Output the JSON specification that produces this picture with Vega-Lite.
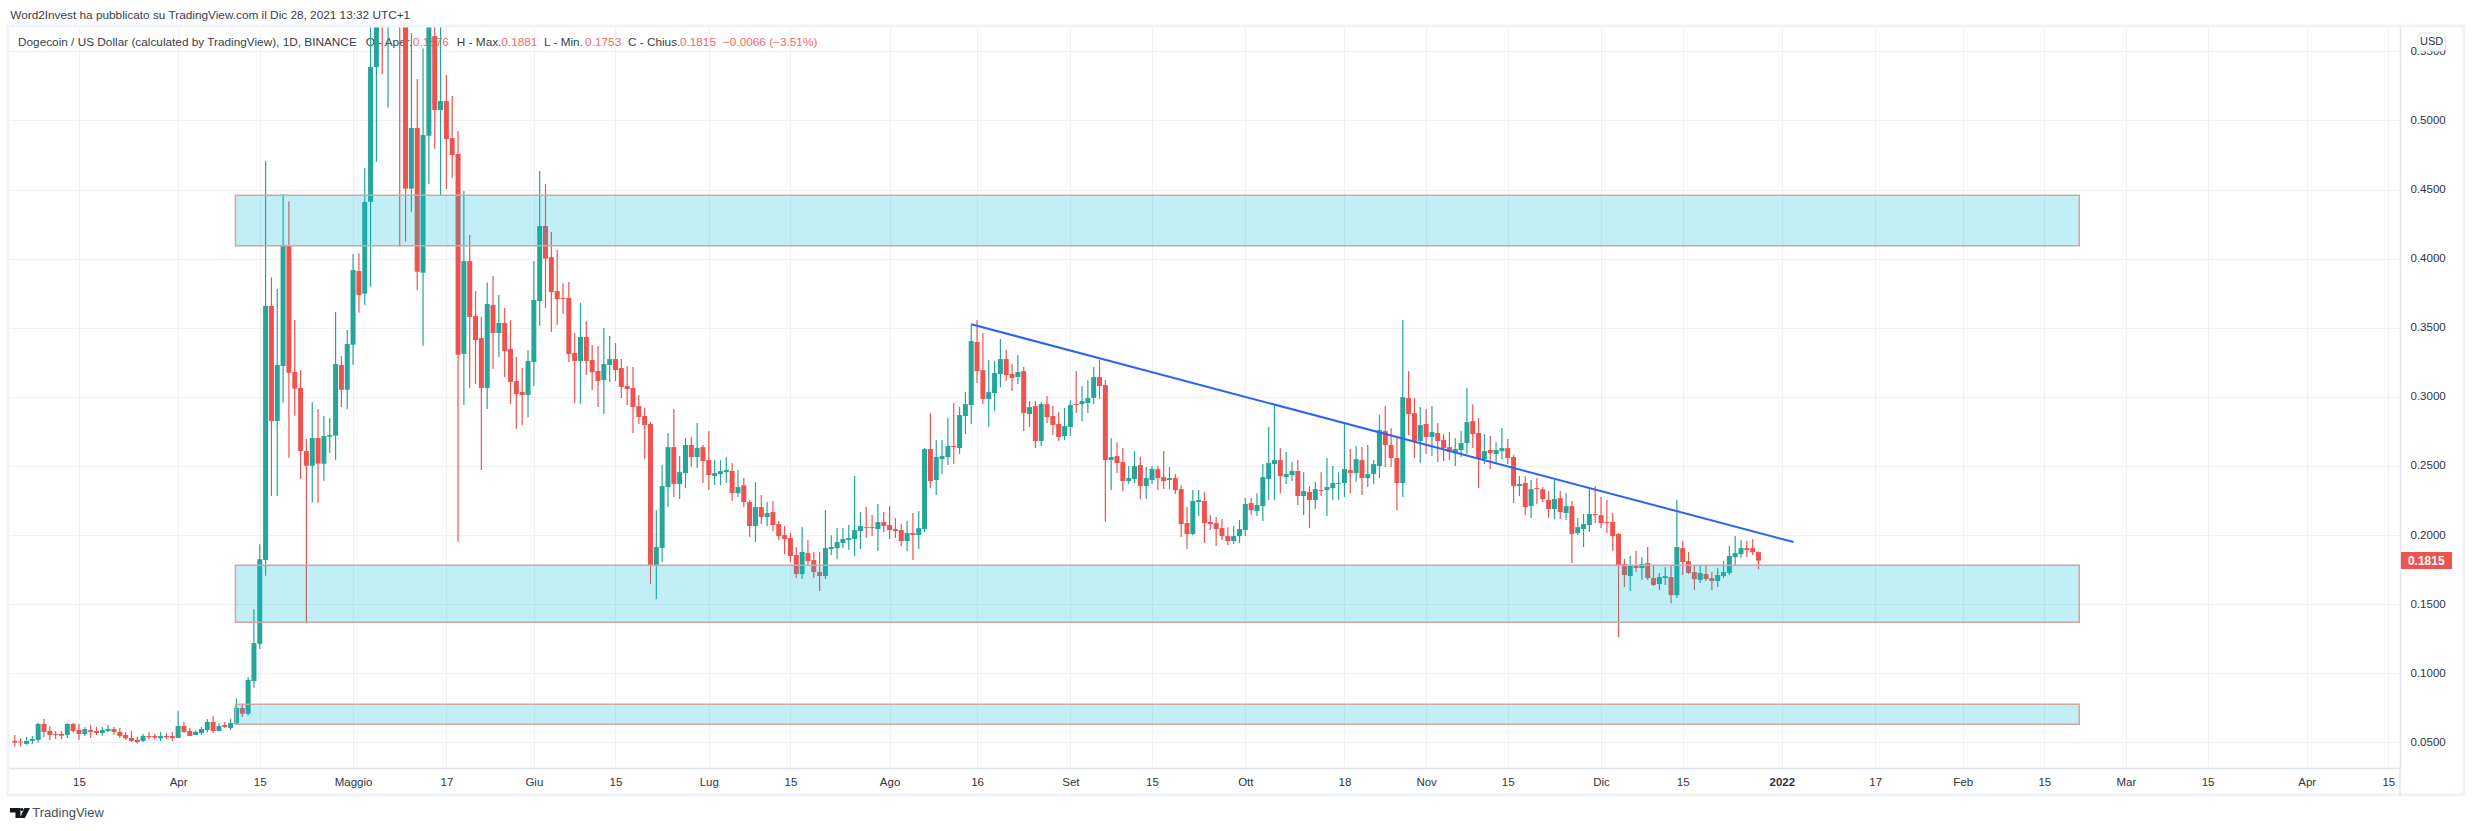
{
"$schema":"https://vega.github.io/schema/vega-lite/v6.json",
"description":"Dogecoin / US Dollar daily candles with support zones and a falling trend line.",
"autosize":{"type":"none"},
"padding":{"left":9,"top":27,"right":74,"bottom":63},
"width":2391,
"height":741,
"background":"white",
"view":{"stroke":null},
"config":{"font":"Liberation Sans","axis":{"labelFont":"Liberation Sans","labelFontSize":11.5,"labelColor":"#30343f","title":null}},
"datasets":{
"candles":[
{"d":"2021-03-04","o":0.051,"h":0.0553,"l":0.0469,"c":0.0498},
{"d":"2021-03-05","o":0.0505,"h":0.0529,"l":0.0469,"c":0.0498},
{"d":"2021-03-06","o":0.0488,"h":0.0539,"l":0.0481,"c":0.051},
{"d":"2021-03-07","o":0.051,"h":0.0546,"l":0.0488,"c":0.0524},
{"d":"2021-03-08","o":0.0517,"h":0.064,"l":0.0498,"c":0.0633},
{"d":"2021-03-09","o":0.0633,"h":0.0669,"l":0.0539,"c":0.0575},
{"d":"2021-03-10","o":0.0582,"h":0.0616,"l":0.0517,"c":0.0553},
{"d":"2021-03-11","o":0.056,"h":0.0582,"l":0.0524,"c":0.0553},
{"d":"2021-03-12","o":0.056,"h":0.0582,"l":0.0524,"c":0.0548},
{"d":"2021-03-13","o":0.0553,"h":0.064,"l":0.0531,"c":0.0633},
{"d":"2021-03-14","o":0.0633,"h":0.064,"l":0.057,"c":0.0582},
{"d":"2021-03-15","o":0.0589,"h":0.0633,"l":0.0517,"c":0.056},
{"d":"2021-03-16","o":0.056,"h":0.0611,"l":0.0546,"c":0.0596},
{"d":"2021-03-17","o":0.0589,"h":0.0625,"l":0.0531,"c":0.0575},
{"d":"2021-03-18","o":0.0582,"h":0.0611,"l":0.0553,"c":0.0567},
{"d":"2021-03-19","o":0.0567,"h":0.0611,"l":0.0548,"c":0.0589},
{"d":"2021-03-20","o":0.0582,"h":0.0625,"l":0.0575,"c":0.0596},
{"d":"2021-03-21","o":0.0596,"h":0.0611,"l":0.0553,"c":0.0575},
{"d":"2021-03-22","o":0.0575,"h":0.0604,"l":0.0531,"c":0.0546},
{"d":"2021-03-23","o":0.0553,"h":0.0575,"l":0.0517,"c":0.0529},
{"d":"2021-03-24","o":0.0531,"h":0.0582,"l":0.0502,"c":0.051},
{"d":"2021-03-25","o":0.0517,"h":0.0541,"l":0.049,"c":0.0502},
{"d":"2021-03-26","o":0.051,"h":0.056,"l":0.0502,"c":0.0546},
{"d":"2021-03-27","o":0.0546,"h":0.0575,"l":0.0524,"c":0.0536},
{"d":"2021-03-28","o":0.0546,"h":0.056,"l":0.0524,"c":0.0534},
{"d":"2021-03-29","o":0.0529,"h":0.0575,"l":0.051,"c":0.0546},
{"d":"2021-03-30","o":0.0546,"h":0.0567,"l":0.0524,"c":0.0536},
{"d":"2021-03-31","o":0.0546,"h":0.0575,"l":0.051,"c":0.0531},
{"d":"2021-04-01","o":0.0531,"h":0.0727,"l":0.0531,"c":0.0618},
{"d":"2021-04-02","o":0.0618,"h":0.0647,"l":0.0567,"c":0.0575},
{"d":"2021-04-03","o":0.0582,"h":0.0604,"l":0.0546,"c":0.0546},
{"d":"2021-04-04","o":0.0553,"h":0.0589,"l":0.0553,"c":0.0575},
{"d":"2021-04-05","o":0.0567,"h":0.0611,"l":0.0553,"c":0.0596},
{"d":"2021-04-06","o":0.0589,"h":0.0669,"l":0.057,"c":0.0647},
{"d":"2021-04-07","o":0.0647,"h":0.069,"l":0.0567,"c":0.0582},
{"d":"2021-04-08","o":0.0582,"h":0.0637,"l":0.0582,"c":0.0618},
{"d":"2021-04-09","o":0.0625,"h":0.0647,"l":0.0604,"c":0.0611},
{"d":"2021-04-10","o":0.0604,"h":0.0669,"l":0.0589,"c":0.064},
{"d":"2021-04-11","o":0.0633,"h":0.0818,"l":0.0625,"c":0.0748},
{"d":"2021-04-12","o":0.0748,"h":0.0777,"l":0.0683,"c":0.0707},
{"d":"2021-04-13","o":0.0707,"h":0.0972,"l":0.0693,"c":0.0951},
{"d":"2021-04-14","o":0.0943,"h":0.1462,"l":0.0895,"c":0.1218},
{"d":"2021-04-15","o":0.1213,"h":0.1933,"l":0.1175,"c":0.1824},
{"d":"2021-04-16","o":0.1819,"h":0.4706,"l":0.1706,"c":0.3657},
{"d":"2021-04-17","o":0.3657,"h":0.3864,"l":0.2282,"c":0.2825},
{"d":"2021-04-18","o":0.2825,"h":0.378,"l":0.2282,"c":0.323},
{"d":"2021-04-19","o":0.3223,"h":0.4467,"l":0.2957,"c":0.4093},
{"d":"2021-04-20","o":0.4093,"h":0.4416,"l":0.2559,"c":0.3174},
{"d":"2021-04-21","o":0.3179,"h":0.3556,"l":0.2863,"c":0.3059},
{"d":"2021-04-22","o":0.3064,"h":0.3194,"l":0.2405,"c":0.2608},
{"d":"2021-04-23","o":0.2608,"h":0.2694,"l":0.136,"c":0.2501},
{"d":"2021-04-24","o":0.2501,"h":0.2962,"l":0.2234,"c":0.2702},
{"d":"2021-04-25","o":0.2702,"h":0.2912,"l":0.2234,"c":0.2516},
{"d":"2021-04-26","o":0.2516,"h":0.2861,"l":0.2393,"c":0.2716},
{"d":"2021-04-27","o":0.2711,"h":0.2846,"l":0.2596,"c":0.2723},
{"d":"2021-04-28","o":0.2719,"h":0.3613,"l":0.2543,"c":0.3237},
{"d":"2021-04-29","o":0.323,"h":0.3295,"l":0.2926,"c":0.3051},
{"d":"2021-04-30","o":0.3051,"h":0.3483,"l":0.2912,"c":0.3382},
{"d":"2021-05-01","o":0.3377,"h":0.4033,"l":0.3232,"c":0.3917},
{"d":"2021-05-02","o":0.391,"h":0.4038,"l":0.3609,"c":0.3736},
{"d":"2021-05-03","o":0.3746,"h":0.4655,"l":0.3664,"c":0.4409},
{"d":"2021-05-04","o":0.4412,"h":0.575,"l":0.3797,"c":0.5386},
{"d":"2021-05-05","o":0.5386,"h":0.65,"l":0.4701,"c":0.6},
{"d":"2021-05-06","o":0.7,"h":0.72,"l":0.5335,"c":0.6},
{"d":"2021-05-07","o":0.6,"h":0.72,"l":0.5092,"c":0.69},
{"d":"2021-05-08","o":0.69,"h":0.74,"l":0.58,"c":0.65},
{"d":"2021-05-09","o":0.65,"h":0.68,"l":0.4086,"c":0.58},
{"d":"2021-05-10","o":0.58,"h":0.6,"l":0.4122,"c":0.4506},
{"d":"2021-05-11","o":0.4506,"h":0.563,"l":0.434,"c":0.4945},
{"d":"2021-05-12","o":0.4945,"h":0.5299,"l":0.3772,"c":0.3905},
{"d":"2021-05-13","o":0.3898,"h":0.5521,"l":0.337,"c":0.4894},
{"d":"2021-05-14","o":0.4889,"h":0.59,"l":0.454,"c":0.57},
{"d":"2021-05-15","o":0.561,"h":0.57,"l":0.4793,"c":0.5075},
{"d":"2021-05-16","o":0.5075,"h":0.57,"l":0.4453,"c":0.514},
{"d":"2021-05-17","o":0.514,"h":0.5328,"l":0.4503,"c":0.4865},
{"d":"2021-05-18","o":0.4872,"h":0.5176,"l":0.4583,"c":0.4749},
{"d":"2021-05-19","o":0.4757,"h":0.4923,"l":0.1951,"c":0.3305},
{"d":"2021-05-20","o":0.331,"h":0.4489,"l":0.294,"c":0.3982},
{"d":"2021-05-21","o":0.3982,"h":0.417,"l":0.3064,"c":0.3577},
{"d":"2021-05-22","o":0.3585,"h":0.3765,"l":0.3092,"c":0.3411},
{"d":"2021-05-23","o":0.3425,"h":0.3577,"l":0.247,"c":0.3064},
{"d":"2021-05-24","o":0.3064,"h":0.3828,"l":0.2912,"c":0.3671},
{"d":"2021-05-25","o":0.3664,"h":0.3874,"l":0.3201,"c":0.3461},
{"d":"2021-05-26","o":0.3461,"h":0.3736,"l":0.3288,"c":0.3534},
{"d":"2021-05-27","o":0.3534,"h":0.3642,"l":0.3143,"c":0.3331},
{"d":"2021-05-28","o":0.3346,"h":0.3556,"l":0.2948,"c":0.3107},
{"d":"2021-05-29","o":0.3114,"h":0.3288,"l":0.2767,"c":0.302},
{"d":"2021-05-30","o":0.3035,"h":0.3208,"l":0.2796,"c":0.3013},
{"d":"2021-05-31","o":0.3013,"h":0.3338,"l":0.2854,"c":0.3259},
{"d":"2021-06-01","o":0.3252,"h":0.3982,"l":0.3078,"c":0.37},
{"d":"2021-06-02","o":0.3693,"h":0.4634,"l":0.3512,"c":0.4236},
{"d":"2021-06-03","o":0.4236,"h":0.454,"l":0.3642,"c":0.4},
{"d":"2021-06-04","o":0.4011,"h":0.4192,"l":0.3469,"c":0.3758},
{"d":"2021-06-05","o":0.3765,"h":0.4062,"l":0.352,"c":0.3707},
{"d":"2021-06-06","o":0.3715,"h":0.3821,"l":0.3599,"c":0.3708},
{"d":"2021-06-07","o":0.3715,"h":0.3831,"l":0.3252,"c":0.331},
{"d":"2021-06-08","o":0.3317,"h":0.3461,"l":0.2955,"c":0.3259},
{"d":"2021-06-09","o":0.3259,"h":0.3679,"l":0.2948,"c":0.3433},
{"d":"2021-06-10","o":0.3433,"h":0.3548,"l":0.3158,"c":0.3259},
{"d":"2021-06-11","o":0.3266,"h":0.3375,"l":0.3049,"c":0.3179},
{"d":"2021-06-12","o":0.3187,"h":0.3367,"l":0.2926,"c":0.3114},
{"d":"2021-06-13","o":0.3121,"h":0.3498,"l":0.2875,"c":0.3237},
{"d":"2021-06-14","o":0.323,"h":0.344,"l":0.3107,"c":0.3273},
{"d":"2021-06-15","o":0.3273,"h":0.3389,"l":0.3114,"c":0.3194},
{"d":"2021-06-16","o":0.3208,"h":0.3273,"l":0.2991,"c":0.3071},
{"d":"2021-06-17","o":0.3078,"h":0.3223,"l":0.294,"c":0.3056},
{"d":"2021-06-18","o":0.3064,"h":0.3215,"l":0.2738,"c":0.2926},
{"d":"2021-06-19","o":0.2933,"h":0.3013,"l":0.2803,"c":0.2854},
{"d":"2021-06-20","o":0.2861,"h":0.2919,"l":0.255,"c":0.2796},
{"d":"2021-06-21","o":0.2803,"h":0.2817,"l":0.1647,"c":0.1783},
{"d":"2021-06-22","o":0.1783,"h":0.218,"l":0.1535,"c":0.1913},
{"d":"2021-06-23","o":0.1906,"h":0.2506,"l":0.1804,"c":0.2354},
{"d":"2021-06-24","o":0.2347,"h":0.2738,"l":0.2202,"c":0.2636},
{"d":"2021-06-25","o":0.2636,"h":0.2911,"l":0.2275,"c":0.2369},
{"d":"2021-06-26","o":0.2369,"h":0.2571,"l":0.226,"c":0.2455},
{"d":"2021-06-27","o":0.2448,"h":0.2701,"l":0.234,"c":0.2651},
{"d":"2021-06-28","o":0.2651,"h":0.2709,"l":0.2492,"c":0.2564},
{"d":"2021-06-29","o":0.2564,"h":0.281,"l":0.2484,"c":0.2629},
{"d":"2021-06-30","o":0.2636,"h":0.2651,"l":0.2376,"c":0.2535},
{"d":"2021-07-01","o":0.2542,"h":0.2752,"l":0.2325,"c":0.2434},
{"d":"2021-07-02","o":0.2427,"h":0.2542,"l":0.2361,"c":0.2448},
{"d":"2021-07-03","o":0.2441,"h":0.2542,"l":0.2361,"c":0.2462},
{"d":"2021-07-04","o":0.2455,"h":0.2564,"l":0.2376,"c":0.247},
{"d":"2021-07-05","o":0.2463,"h":0.2521,"l":0.2246,"c":0.2303},
{"d":"2021-07-06","o":0.2303,"h":0.247,"l":0.2275,"c":0.2347},
{"d":"2021-07-07","o":0.236,"h":0.2412,"l":0.2202,"c":0.2238},
{"d":"2021-07-08","o":0.2238,"h":0.2253,"l":0.1985,"c":0.2065},
{"d":"2021-07-09","o":0.2065,"h":0.2383,"l":0.1949,"c":0.2202},
{"d":"2021-07-10","o":0.2202,"h":0.2289,"l":0.2079,"c":0.213},
{"d":"2021-07-11","o":0.213,"h":0.2238,"l":0.2065,"c":0.2159},
{"d":"2021-07-12","o":0.2166,"h":0.2246,"l":0.2028,"c":0.2072},
{"d":"2021-07-13","o":0.2079,"h":0.2101,"l":0.1963,"c":0.1992},
{"d":"2021-07-14","o":0.2,"h":0.2065,"l":0.186,"c":0.1971},
{"d":"2021-07-15","o":0.1978,"h":0.2014,"l":0.1804,"c":0.1848},
{"d":"2021-07-16","o":0.1855,"h":0.1913,"l":0.1688,"c":0.1717},
{"d":"2021-07-17","o":0.1717,"h":0.2057,"l":0.1681,"c":0.1877},
{"d":"2021-07-18","o":0.1869,"h":0.1963,"l":0.1783,"c":0.1811},
{"d":"2021-07-19","o":0.1819,"h":0.1877,"l":0.1688,"c":0.1732},
{"d":"2021-07-20","o":0.1732,"h":0.1877,"l":0.1594,"c":0.1703},
{"d":"2021-07-21","o":0.1703,"h":0.218,"l":0.1681,"c":0.1905},
{"d":"2021-07-22","o":0.1898,"h":0.1998,"l":0.1855,"c":0.1913},
{"d":"2021-07-23","o":0.1905,"h":0.205,"l":0.1826,"c":0.1949},
{"d":"2021-07-24","o":0.1942,"h":0.205,"l":0.1905,"c":0.1971},
{"d":"2021-07-25","o":0.1963,"h":0.2072,"l":0.1891,"c":0.1978},
{"d":"2021-07-26","o":0.1971,"h":0.2426,"l":0.1848,"c":0.2036},
{"d":"2021-07-27","o":0.2029,"h":0.2166,"l":0.1898,"c":0.2065},
{"d":"2021-07-28","o":0.2057,"h":0.2202,"l":0.1978,"c":0.205},
{"d":"2021-07-29","o":0.2057,"h":0.2144,"l":0.1992,"c":0.205},
{"d":"2021-07-30","o":0.2043,"h":0.2224,"l":0.1884,"c":0.2094},
{"d":"2021-07-31","o":0.2094,"h":0.2166,"l":0.2021,"c":0.2065},
{"d":"2021-08-01","o":0.2072,"h":0.2209,"l":0.1971,"c":0.2036},
{"d":"2021-08-02","o":0.2043,"h":0.2123,"l":0.1978,"c":0.2029},
{"d":"2021-08-03","o":0.2036,"h":0.2079,"l":0.192,"c":0.1956},
{"d":"2021-08-04","o":0.1956,"h":0.2101,"l":0.1884,"c":0.2014},
{"d":"2021-08-05","o":0.2014,"h":0.2159,"l":0.1819,"c":0.2},
{"d":"2021-08-06","o":0.2,"h":0.2173,"l":0.1898,"c":0.205},
{"d":"2021-08-07","o":0.2043,"h":0.2629,"l":0.2021,"c":0.2622},
{"d":"2021-08-08","o":0.2622,"h":0.2882,"l":0.234,"c":0.239},
{"d":"2021-08-09","o":0.2398,"h":0.2687,"l":0.2289,"c":0.2564},
{"d":"2021-08-10","o":0.2549,"h":0.2687,"l":0.2441,"c":0.2571},
{"d":"2021-08-11","o":0.2564,"h":0.2846,"l":0.2506,"c":0.2644},
{"d":"2021-08-12","o":0.2644,"h":0.2955,"l":0.2513,"c":0.2636},
{"d":"2021-08-13","o":0.2629,"h":0.2926,"l":0.2586,"c":0.2868},
{"d":"2021-08-14","o":0.2861,"h":0.3034,"l":0.273,"c":0.2947},
{"d":"2021-08-15","o":0.294,"h":0.3524,"l":0.2803,"c":0.3403},
{"d":"2021-08-16","o":0.3396,"h":0.3555,"l":0.31,"c":0.3186},
{"d":"2021-08-17","o":0.3193,"h":0.3461,"l":0.2947,"c":0.2984},
{"d":"2021-08-18","o":0.2984,"h":0.3266,"l":0.2781,"c":0.3034},
{"d":"2021-08-19","o":0.3027,"h":0.3259,"l":0.2897,"c":0.3172},
{"d":"2021-08-20","o":0.3165,"h":0.3418,"l":0.307,"c":0.3273},
{"d":"2021-08-21","o":0.3273,"h":0.3338,"l":0.3114,"c":0.3157},
{"d":"2021-08-22","o":0.3165,"h":0.3237,"l":0.3042,"c":0.3136},
{"d":"2021-08-23","o":0.3143,"h":0.3302,"l":0.3092,"c":0.3179},
{"d":"2021-08-24","o":0.3186,"h":0.3215,"l":0.2752,"c":0.2882},
{"d":"2021-08-25","o":0.2875,"h":0.2969,"l":0.2781,"c":0.2926},
{"d":"2021-08-26","o":0.2933,"h":0.2969,"l":0.2629,"c":0.268},
{"d":"2021-08-27","o":0.268,"h":0.2962,"l":0.2644,"c":0.2947},
{"d":"2021-08-28","o":0.2947,"h":0.3005,"l":0.281,"c":0.2853},
{"d":"2021-08-29","o":0.2861,"h":0.2933,"l":0.2723,"c":0.2796},
{"d":"2021-08-30","o":0.2803,"h":0.289,"l":0.268,"c":0.2709},
{"d":"2021-08-31","o":0.2716,"h":0.2919,"l":0.2687,"c":0.2788},
{"d":"2021-09-01","o":0.2781,"h":0.2976,"l":0.2716,"c":0.294},
{"d":"2021-09-02","o":0.2947,"h":0.3186,"l":0.2882,"c":0.294},
{"d":"2021-09-03","o":0.2947,"h":0.3078,"l":0.2824,"c":0.2969},
{"d":"2021-09-04","o":0.2955,"h":0.3121,"l":0.2882,"c":0.2991},
{"d":"2021-09-05","o":0.2991,"h":0.3215,"l":0.2947,"c":0.3143},
{"d":"2021-09-06","o":0.3143,"h":0.3266,"l":0.2984,"c":0.3078},
{"d":"2021-09-07","o":0.3085,"h":0.3121,"l":0.2096,"c":0.2542},
{"d":"2021-09-08","o":0.2542,"h":0.2701,"l":0.2325,"c":0.2564},
{"d":"2021-09-09","o":0.2571,"h":0.2672,"l":0.2448,"c":0.2521},
{"d":"2021-09-10","o":0.2528,"h":0.2629,"l":0.2318,"c":0.239},
{"d":"2021-09-11","o":0.239,"h":0.2499,"l":0.2369,"c":0.2412},
{"d":"2021-09-12","o":0.2405,"h":0.2607,"l":0.2376,"c":0.2499},
{"d":"2021-09-13","o":0.2506,"h":0.2564,"l":0.226,"c":0.2354},
{"d":"2021-09-14","o":0.2354,"h":0.2492,"l":0.226,"c":0.2412},
{"d":"2021-09-15","o":0.2398,"h":0.2499,"l":0.2369,"c":0.2477},
{"d":"2021-09-16","o":0.2477,"h":0.2499,"l":0.2325,"c":0.2412},
{"d":"2021-09-17","o":0.2419,"h":0.2607,"l":0.2332,"c":0.239},
{"d":"2021-09-18","o":0.2398,"h":0.2492,"l":0.2332,"c":0.2412},
{"d":"2021-09-19","o":0.2412,"h":0.2441,"l":0.2296,"c":0.2325},
{"d":"2021-09-20","o":0.2332,"h":0.236,"l":0.1985,"c":0.2079},
{"d":"2021-09-21","o":0.2086,"h":0.2202,"l":0.1898,"c":0.2007},
{"d":"2021-09-22","o":0.2007,"h":0.2325,"l":0.1999,"c":0.2246},
{"d":"2021-09-23","o":0.2238,"h":0.2325,"l":0.2137,"c":0.2253},
{"d":"2021-09-24","o":0.2246,"h":0.2311,"l":0.1942,"c":0.2086},
{"d":"2021-09-25","o":0.2094,"h":0.2144,"l":0.2036,"c":0.2079},
{"d":"2021-09-26","o":0.2086,"h":0.213,"l":0.192,"c":0.2043},
{"d":"2021-09-27","o":0.205,"h":0.2115,"l":0.1963,"c":0.1992},
{"d":"2021-09-28","o":0.1992,"h":0.2057,"l":0.1927,"c":0.1956},
{"d":"2021-09-29","o":0.1956,"h":0.2065,"l":0.1934,"c":0.1992},
{"d":"2021-09-30","o":0.1992,"h":0.2108,"l":0.1942,"c":0.2043},
{"d":"2021-10-01","o":0.2036,"h":0.2267,"l":0.1992,"c":0.2224},
{"d":"2021-10-02","o":0.2231,"h":0.2267,"l":0.2144,"c":0.218},
{"d":"2021-10-03","o":0.2173,"h":0.2303,"l":0.2137,"c":0.2217},
{"d":"2021-10-04","o":0.2209,"h":0.2513,"l":0.2101,"c":0.2419},
{"d":"2021-10-05","o":0.2405,"h":0.2781,"l":0.2253,"c":0.2521},
{"d":"2021-10-06","o":0.2513,"h":0.294,"l":0.2253,"c":0.2542},
{"d":"2021-10-07","o":0.2542,"h":0.2629,"l":0.2303,"c":0.2426},
{"d":"2021-10-08","o":0.2419,"h":0.26,"l":0.2369,"c":0.2441},
{"d":"2021-10-09","o":0.2434,"h":0.2528,"l":0.239,"c":0.2463},
{"d":"2021-10-10","o":0.2463,"h":0.2542,"l":0.2217,"c":0.2282},
{"d":"2021-10-11","o":0.2282,"h":0.2455,"l":0.2144,"c":0.2318},
{"d":"2021-10-12","o":0.2311,"h":0.2354,"l":0.205,"c":0.2253},
{"d":"2021-10-13","o":0.2253,"h":0.2383,"l":0.2188,"c":0.2332},
{"d":"2021-10-14","o":0.2325,"h":0.2455,"l":0.2282,"c":0.2318},
{"d":"2021-10-15","o":0.2325,"h":0.2557,"l":0.2137,"c":0.2347},
{"d":"2021-10-16","o":0.234,"h":0.2499,"l":0.2253,"c":0.2376},
{"d":"2021-10-17","o":0.2369,"h":0.2455,"l":0.2253,"c":0.2376},
{"d":"2021-10-18","o":0.2376,"h":0.2803,"l":0.2275,"c":0.2477},
{"d":"2021-10-19","o":0.247,"h":0.2622,"l":0.2303,"c":0.2448},
{"d":"2021-10-20","o":0.2448,"h":0.2644,"l":0.2383,"c":0.2549},
{"d":"2021-10-21","o":0.2542,"h":0.2636,"l":0.2289,"c":0.2412},
{"d":"2021-10-22","o":0.2412,"h":0.2651,"l":0.2347,"c":0.2441},
{"d":"2021-10-23","o":0.2441,"h":0.2542,"l":0.2369,"c":0.2513},
{"d":"2021-10-24","o":0.2499,"h":0.2868,"l":0.2412,"c":0.2759},
{"d":"2021-10-25","o":0.2752,"h":0.2933,"l":0.2492,"c":0.2651},
{"d":"2021-10-26","o":0.2651,"h":0.2774,"l":0.2492,"c":0.2557},
{"d":"2021-10-27","o":0.2557,"h":0.2709,"l":0.218,"c":0.2376},
{"d":"2021-10-28","o":0.2376,"h":0.3555,"l":0.2275,"c":0.2998},
{"d":"2021-10-29","o":0.2991,"h":0.3186,"l":0.2723,"c":0.2875},
{"d":"2021-10-30","o":0.2882,"h":0.2991,"l":0.2557,"c":0.268},
{"d":"2021-10-31","o":0.268,"h":0.2926,"l":0.2521,"c":0.2796},
{"d":"2021-11-01","o":0.2803,"h":0.2911,"l":0.2586,"c":0.2709},
{"d":"2021-11-02","o":0.2709,"h":0.2933,"l":0.2571,"c":0.2745},
{"d":"2021-11-03","o":0.2738,"h":0.281,"l":0.2528,"c":0.268},
{"d":"2021-11-04","o":0.2687,"h":0.273,"l":0.2535,"c":0.2629},
{"d":"2021-11-05","o":0.2636,"h":0.2745,"l":0.2542,"c":0.26},
{"d":"2021-11-06","o":0.26,"h":0.2701,"l":0.2499,"c":0.2622},
{"d":"2021-11-07","o":0.2615,"h":0.2752,"l":0.2564,"c":0.2665},
{"d":"2021-11-08","o":0.2665,"h":0.3063,"l":0.2586,"c":0.2817},
{"d":"2021-11-09","o":0.2824,"h":0.2947,"l":0.2629,"c":0.273},
{"d":"2021-11-10","o":0.2738,"h":0.2846,"l":0.234,"c":0.2549},
{"d":"2021-11-11","o":0.2549,"h":0.273,"l":0.2513,"c":0.2607},
{"d":"2021-11-12","o":0.2615,"h":0.2716,"l":0.2477,"c":0.2593},
{"d":"2021-11-13","o":0.2586,"h":0.2672,"l":0.2521,"c":0.2615},
{"d":"2021-11-14","o":0.2607,"h":0.2774,"l":0.2549,"c":0.2629},
{"d":"2021-11-15","o":0.2629,"h":0.2694,"l":0.2513,"c":0.2557},
{"d":"2021-11-16","o":0.2564,"h":0.2578,"l":0.2231,"c":0.2354},
{"d":"2021-11-17","o":0.2354,"h":0.2426,"l":0.2282,"c":0.2369},
{"d":"2021-11-18","o":0.2376,"h":0.2426,"l":0.2144,"c":0.2202},
{"d":"2021-11-19","o":0.2209,"h":0.2398,"l":0.2123,"c":0.2332},
{"d":"2021-11-20","o":0.234,"h":0.2412,"l":0.2224,"c":0.2332},
{"d":"2021-11-21","o":0.2332,"h":0.2347,"l":0.2238,"c":0.226},
{"d":"2021-11-22","o":0.2253,"h":0.2318,"l":0.2123,"c":0.2188},
{"d":"2021-11-23","o":0.2188,"h":0.2398,"l":0.2115,"c":0.226},
{"d":"2021-11-24","o":0.2267,"h":0.2318,"l":0.2115,"c":0.2166},
{"d":"2021-11-25","o":0.2159,"h":0.2303,"l":0.2108,"c":0.2209},
{"d":"2021-11-26","o":0.2209,"h":0.2246,"l":0.1797,"c":0.2007},
{"d":"2021-11-27","o":0.2014,"h":0.2123,"l":0.2,"c":0.2057},
{"d":"2021-11-28","o":0.2043,"h":0.2152,"l":0.1913,"c":0.2079},
{"d":"2021-11-29","o":0.2072,"h":0.2332,"l":0.2021,"c":0.2152},
{"d":"2021-11-30","o":0.2152,"h":0.2354,"l":0.2086,"c":0.2144},
{"d":"2021-12-01","o":0.2144,"h":0.2275,"l":0.205,"c":0.2086},
{"d":"2021-12-02","o":0.2094,"h":0.2253,"l":0.2014,"c":0.2086},
{"d":"2021-12-03","o":0.2094,"h":0.2159,"l":0.1884,"c":0.1992},
{"d":"2021-12-04","o":0.2007,"h":0.2014,"l":0.1262,"c":0.1783},
{"d":"2021-12-05","o":0.179,"h":0.1826,"l":0.1623,"c":0.171},
{"d":"2021-12-06","o":0.1703,"h":0.1848,"l":0.1594,"c":0.1783},
{"d":"2021-12-07","o":0.1783,"h":0.1884,"l":0.1732,"c":0.1761},
{"d":"2021-12-08","o":0.1761,"h":0.184,"l":0.1674,"c":0.179},
{"d":"2021-12-09","o":0.1797,"h":0.1913,"l":0.1674,"c":0.1688},
{"d":"2021-12-10","o":0.1688,"h":0.1783,"l":0.1631,"c":0.1638},
{"d":"2021-12-11","o":0.1645,"h":0.1725,"l":0.1602,"c":0.1696},
{"d":"2021-12-12","o":0.1688,"h":0.1768,"l":0.1638,"c":0.1703},
{"d":"2021-12-13","o":0.1696,"h":0.1783,"l":0.1507,"c":0.1565},
{"d":"2021-12-14","o":0.1565,"h":0.2253,"l":0.1544,"c":0.1913},
{"d":"2021-12-15","o":0.1905,"h":0.1956,"l":0.171,"c":0.1804},
{"d":"2021-12-16","o":0.1811,"h":0.1877,"l":0.1717,"c":0.1725},
{"d":"2021-12-17","o":0.1732,"h":0.1775,"l":0.1602,"c":0.1681},
{"d":"2021-12-18","o":0.1674,"h":0.1775,"l":0.1652,"c":0.1725},
{"d":"2021-12-19","o":0.1717,"h":0.1783,"l":0.1667,"c":0.1681},
{"d":"2021-12-20","o":0.1688,"h":0.1732,"l":0.1602,"c":0.1667},
{"d":"2021-12-21","o":0.1667,"h":0.1761,"l":0.1623,"c":0.171},
{"d":"2021-12-22","o":0.1703,"h":0.1811,"l":0.1688,"c":0.1732},
{"d":"2021-12-23","o":0.1725,"h":0.192,"l":0.171,"c":0.1848},
{"d":"2021-12-24","o":0.184,"h":0.1992,"l":0.1783,"c":0.1869},
{"d":"2021-12-25","o":0.1862,"h":0.1963,"l":0.1833,"c":0.1905},
{"d":"2021-12-26","o":0.1905,"h":0.1956,"l":0.184,"c":0.1891},
{"d":"2021-12-27","o":0.1905,"h":0.197,"l":0.1855,"c":0.1876},
{"d":"2021-12-28","o":0.1876,"h":0.1881,"l":0.1753,"c":0.1815}
],
"zones":[
{"from":"2021-04-10T20:00:00Z","to":"2022-02-21T00:00:00Z","hi":0.4458,"lo":0.4093},
{"from":"2021-04-10T20:00:00Z","to":"2022-02-21T00:00:00Z","hi":0.1781,"lo":0.1368},
{"from":"2021-04-10T20:00:00Z","to":"2022-02-21T00:00:00Z","hi":0.0775,"lo":0.063}
],
"trend":[
{"d":"2021-08-15","v":0.3525},
{"d":"2022-01-03","v":0.1949}
],
"darkText":[
{"d":"2021-03-03T05:00:00Z","v":0.5763,"t":"Word2Invest ha pubblicato su TradingView.com il Dic 28, 2021 13:32 UTC+1"},
{"d":"2021-03-04T13:00:00Z","v":0.557,"t":"Dogecoin / US Dollar (calculated by TradingView), 1D, BINANCE"},
{"d":"2021-05-03T04:00:00Z","v":0.557,"t":"O - Aper."},
{"d":"2021-05-18T19:00:00Z","v":0.557,"t":"H - Max."},
{"d":"2021-06-02T18:00:00Z","v":0.557,"t":"L - Min."},
{"d":"2021-06-17T03:00:00Z","v":0.557,"t":"C - Chius."}
],
"redText":[
{"d":"2021-05-11T06:00:00Z","v":0.557,"t":"0.1876"},
{"d":"2021-05-26T10:00:00Z","v":0.557,"t":"0.1881"},
{"d":"2021-06-09T19:00:00Z","v":0.557,"t":"0.1753"},
{"d":"2021-06-26T01:00:00Z","v":0.557,"t":"0.1815"},
{"d":"2021-07-03T10:00:00Z","v":0.557,"t":"−0.0066 (−3.51%)"}
]
},
"layer":[
{
"data":{"name":"darkText"},
"mark":{"type":"text","align":"left","baseline":"middle","fontSize":11.8,"color":"#3a3e49"},
"encoding":{
"x":{"field":"d","type":"temporal","scale":{"type":"utc","domain":["2021-03-03","2022-04-17"]},
"axis":{"orient":"bottom","title":null,"grid":true,"gridColor":"#f0f1f5","gridWidth":1,"ticks":false,"domainColor":"#e0e3eb","domainWidth":1.5,"labelPadding":8,"labelOverlap":false,"labelBound":false,"labelFlush":false,
"values":["2021-03-15","2021-04-01","2021-04-15","2021-05-01","2021-05-17","2021-06-01","2021-06-15","2021-07-01","2021-07-15","2021-08-01","2021-08-16","2021-09-01","2021-09-15","2021-10-01","2021-10-18","2021-11-01","2021-11-15","2021-12-01","2021-12-15","2022-01-01","2022-01-17","2022-02-01","2022-02-15","2022-03-01","2022-03-15","2022-04-01","2022-04-15"],
"labelExpr":"utcdate(datum.value) == 1 ? ['2022','Feb','Mar','Apr','Maggio','Giu','Lug','Ago','Set','Ott','Nov','Dic'][utcmonth(datum.value)] : '' + utcdate(datum.value)",
"labelFontWeight":{"condition":{"test":"utcdate(datum.value) == 1 && utcmonth(datum.value) == 0","value":"bold"},"value":"normal"}}},
"y":{"field":"v","type":"quantitative","scale":{"domain":[0.0314,0.5676],"nice":false,"zero":false},
"axis":{"orient":"right","title":null,"grid":true,"gridColor":"#f0f1f5","gridWidth":1,"ticks":false,"domainColor":"#e0e3eb","domainWidth":1.5,"labelPadding":10,"labelOverlap":false,"labelBound":false,"format":".4f",
"values":[0.05,0.1,0.15,0.2,0.25,0.3,0.35,0.4,0.45,0.5,0.55]}},
"text":{"field":"t"}
}
},
{
"data":{"name":"redText"},
"mark":{"type":"text","align":"left","baseline":"middle","fontSize":11.8,"color":"#f7676a"},
"encoding":{
"x":{"field":"d","type":"temporal"},
"y":{"field":"v","type":"quantitative"},
"text":{"field":"t"}
}
},
{
"data":{"name":"candles"},
"mark":{"type":"rule","strokeWidth":1.2,"clip":true},
"encoding":{
"x":{"field":"d","type":"temporal"},
"y":{"field":"l","type":"quantitative"},
"y2":{"field":"h"},
"color":{"condition":{"test":"datum.c >= datum.o","value":"#26a69a"},"value":"#ef5350"}
}
},
{
"data":{"name":"candles"},
"mark":{"type":"rule","strokeWidth":5,"clip":true},
"encoding":{
"x":{"field":"d","type":"temporal"},
"y":{"field":"o","type":"quantitative"},
"y2":{"field":"c"},
"color":{"condition":{"test":"datum.c >= datum.o","value":"#26a69a"},"value":"#ef5350"}
}
},
{
"mark":{"type":"rule","color":"#ef5350","strokeWidth":1,"strokeDash":[1,2]},
"encoding":{"y":{"datum":0.1815,"type":"quantitative"}}
},
{
"data":{"name":"zones"},
"mark":{"type":"rect","fill":"#00bcd4","fillOpacity":0.24,"stroke":"#cfa6a6","strokeWidth":1.5},
"encoding":{
"x":{"field":"from","type":"temporal"},
"x2":{"field":"to"},
"y":{"field":"hi","type":"quantitative"},
"y2":{"field":"lo"}
}
},
{
"data":{"name":"trend"},
"mark":{"type":"line","color":"#2962ff","strokeWidth":2},
"encoding":{
"x":{"field":"d","type":"temporal"},
"y":{"field":"v","type":"quantitative"}
}
},
{
"data":{"values":[{"a":"2021-03-02T20:00:00Z","b":"2022-04-27T22:00:00Z","hi":0.5683,"lo":0.0119}]},
"mark":{"type":"rect","fill":null,"stroke":"#f0f3fa","strokeWidth":3},
"encoding":{
"x":{"field":"a","type":"temporal"},
"x2":{"field":"b"},
"y":{"field":"hi","type":"quantitative"},
"y2":{"field":"lo"}
}
},
{
"data":{"values":[{"d":"2022-04-17","a":0.0314,"b":0.0119}]},
"mark":{"type":"rule","color":"#e0e3eb","strokeWidth":1.5},
"encoding":{
"x":{"field":"d","type":"temporal"},
"y":{"field":"a","type":"quantitative"},
"y2":{"field":"b"}
}
},
{
"data":{"values":[{"a":"2022-04-17T04:00:00Z","b":"2022-04-25T22:00:00Z","hi":0.1877,"lo":0.1754}]},
"mark":{"type":"rect","fill":"#ef5350","cornerRadius":1},
"encoding":{
"x":{"field":"a","type":"temporal"},
"x2":{"field":"b"},
"y":{"field":"hi","type":"quantitative"},
"y2":{"field":"lo"}
}
},
{
"data":{"values":[{"d":"2022-04-21T12:00:00Z","v":0.1815,"t":"0.1815"}]},
"mark":{"type":"text","align":"center","baseline":"middle","fontSize":12,"fontWeight":"bold","color":"white"},
"encoding":{
"x":{"field":"d","type":"temporal"},
"y":{"field":"v","type":"quantitative"},
"text":{"field":"t"}
}
},
{
"data":{"values":[{"a":"2022-04-20T02:00:00Z","b":"2022-04-24T19:00:00Z","hi":0.5632,"lo":0.5502}]},
"mark":{"type":"rect","fill":"white","stroke":"#e0e3eb","strokeWidth":1,"cornerRadius":3},
"encoding":{
"x":{"field":"a","type":"temporal"},
"x2":{"field":"b"},
"y":{"field":"hi","type":"quantitative"},
"y2":{"field":"lo"}
}
},
{
"data":{"values":[{"d":"2022-04-22T10:00:00Z","v":0.5566,"t":"USD"}]},
"mark":{"type":"text","align":"center","baseline":"middle","fontSize":11,"color":"#30343f"},
"encoding":{
"x":{"field":"d","type":"temporal"},
"y":{"field":"v","type":"quantitative"},
"text":{"field":"t"}
}
},
{
"data":{"values":[{"d":"2021-03-07","v":-0.0012,"t":"TradingView"}]},
"mark":{"type":"text","align":"left","baseline":"middle","fontSize":13,"color":"#4a4e59"},
"encoding":{
"x":{"field":"d","type":"temporal"},
"y":{"field":"v","type":"quantitative"},
"text":{"field":"t"}
}
},
{
"data":{"values":[{"d":"2021-03-04T21:00:00Z","v":-0.0012}]},
"mark":{"type":"point","shape":"M-1 -0.5 H0.05 V0.5 H-0.45 V-0.05 H-1 Z M0.2 -0.5 A0.15 0.15 0 1 1 0.2 -0.2 A0.15 0.15 0 1 1 0.2 -0.5 Z M0.45 -0.5 H1 L0.5 0.5 H0 Z","filled":true,"size":400,"color":"#131722","opacity":1},
"encoding":{
"x":{"field":"d","type":"temporal"},
"y":{"field":"v","type":"quantitative"}
}
}
]
}
